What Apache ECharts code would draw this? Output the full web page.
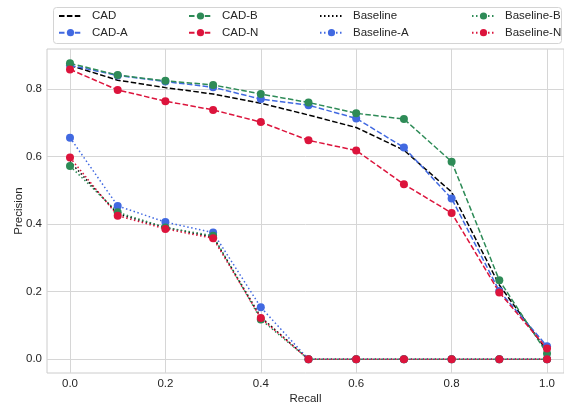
<!DOCTYPE html>
<html>
<head>
<meta charset="utf-8">
<script src="https://cdn.jsdelivr.net/npm/echarts@6/dist/echarts.min.js"></script>
<style>html,body{margin:0;padding:0;background:#fff;}#c{width:564px;height:404px;}</style>
</head>
<body>
<div id="c"></div>
<script>
const recall = [0.0, 0.1, 0.2, 0.3, 0.4, 0.5, 0.6, 0.7, 0.8, 0.9, 1.0];
const cad   = [0.870, 0.826, 0.804, 0.785, 0.758, 0.723, 0.686, 0.619, 0.495, 0.220, 0.025];
const cadA  = [0.870, 0.840, 0.822, 0.805, 0.770, 0.752, 0.713, 0.627, 0.476, 0.202, 0.039];
const cadB  = [0.876, 0.841, 0.824, 0.812, 0.785, 0.760, 0.728, 0.711, 0.585, 0.234, 0.017];
const cadN  = [0.858, 0.797, 0.764, 0.738, 0.702, 0.648, 0.618, 0.518, 0.433, 0.198, 0.032];
const base  = [0.585, 0.430, 0.390, 0.362, 0.125, 0, 0, 0, 0, 0, 0];
const baseA = [0.656, 0.454, 0.406, 0.375, 0.154, 0, 0, 0, 0, 0, 0];
const baseB = [0.572, 0.435, 0.390, 0.366, 0.118, 0, 0, 0, 0, 0, 0];
const baseN = [0.597, 0.425, 0.386, 0.358, 0.122, 0, 0, 0, 0, 0, 0];
const xTicks = [0.0, 0.2, 0.4, 0.6, 0.8, 1.0];
const yTicks = [0.0, 0.2, 0.4, 0.6, 0.8];

const FONT = '"Liberation Sans", Arial, sans-serif';
const TXT = '#262626';
const DASH = [5.5, 2.4];
const DOT = [1.5, 2.5];

function pts(arr){ return recall.map((r,i)=>[r, arr[i]]); }
function mk(name, arr, color, dash, marker){
  return {
    name, type:'line', data: pts(arr),
    symbol: marker ? 'circle' : 'none',
    symbolSize: 8,
    showSymbol: !!marker,
    itemStyle: {color},
    lineStyle: {color, width: 1.5, type: dash},
    emphasis: {disabled: true},
    animation: false
  };
}

const series = [
  mk('CAD', cad, '#000000', DASH, false),
  mk('CAD-A', cadA, '#4169E1', DASH, true),
  mk('CAD-B', cadB, '#2E8B57', DASH, true),
  mk('CAD-N', cadN, '#DC143C', DASH, true),
  mk('Baseline', base, '#000000', DOT, false),
  mk('Baseline-A', baseA, '#4169E1', DOT, true),
  mk('Baseline-B', baseB, '#2E8B57', DOT, true),
  mk('Baseline-N', baseN, '#DC143C', DOT, true)
];
const noMarker = ['CAD', 'Baseline'];

const legendCols = [
  [['CAD','CAD-A'], 58],
  [['CAD-B','CAD-N'], 188],
  [['Baseline','Baseline-A'], 319],
  [['Baseline-B','Baseline-N'], 471]
];
const legends = legendCols.map(([names, left]) => ({
  data: names.map(n => noMarker.includes(n) ? {name: n, itemStyle: {opacity: 0}} : {name: n}),
  left, top: 10, orient: 'vertical',
  itemWidth: 23, itemHeight: 9, itemGap: 4.7,
  padding: 0, selectedMode: false,
  textStyle: {fontFamily: FONT, fontSize: 11.5, color: TXT, padding: [0,0,0,5]}
}));

const chart = echarts.init(document.getElementById('c'), null, {renderer:'canvas'});
chart.setOption({
  animation: false,
  backgroundColor: '#fff',
  graphic: [{
    type: 'rect', left: 53, top: 7, z: 0,
    shape: {width: 508, height: 36, r: 3},
    style: {fill: '#fff', stroke: '#d4d4d4', lineWidth: 1}
  }],
  legend: legends,
  grid: {left: 47, right: 0, top: 49, bottom: 31, outerBoundsMode: 'none', containLabel: false,
         show: true, borderColor: '#cccccc', borderWidth: 1, backgroundColor: 'transparent'},
  xAxis: {
    type: 'value', min: -0.0482, max: 1.0356,
    name: 'Recall', nameLocation: 'middle', nameGap: 20, nameMoveOverlap: false,
    nameTextStyle: {fontFamily: FONT, fontSize: 11.5, color: TXT, verticalAlign: 'top'},
    axisLine: {show: false},
    axisTick: {show: false, customValues: xTicks},
    axisLabel: {customValues: xTicks, formatter: v => v.toFixed(1), fontFamily: FONT, fontSize: 11.5, color: TXT, margin: 5},
    splitLine: {show: true, lineStyle: {color: '#d6d6d6', width: 1}}
  },
  yAxis: {
    type: 'value', min: -0.0405, max: 0.9183,
    name: 'Precision', nameLocation: 'middle', nameGap: 22, nameMoveOverlap: false,
    nameTextStyle: {fontFamily: FONT, fontSize: 11.5, color: TXT},
    axisLine: {show: false},
    axisTick: {show: false, customValues: yTicks},
    axisLabel: {customValues: yTicks, formatter: v => v.toFixed(1), fontFamily: FONT, fontSize: 11.5, color: TXT, margin: 5},
    splitLine: {show: true, lineStyle: {color: '#d6d6d6', width: 1}}
  },
  series
});
</script>
</body>
</html>
